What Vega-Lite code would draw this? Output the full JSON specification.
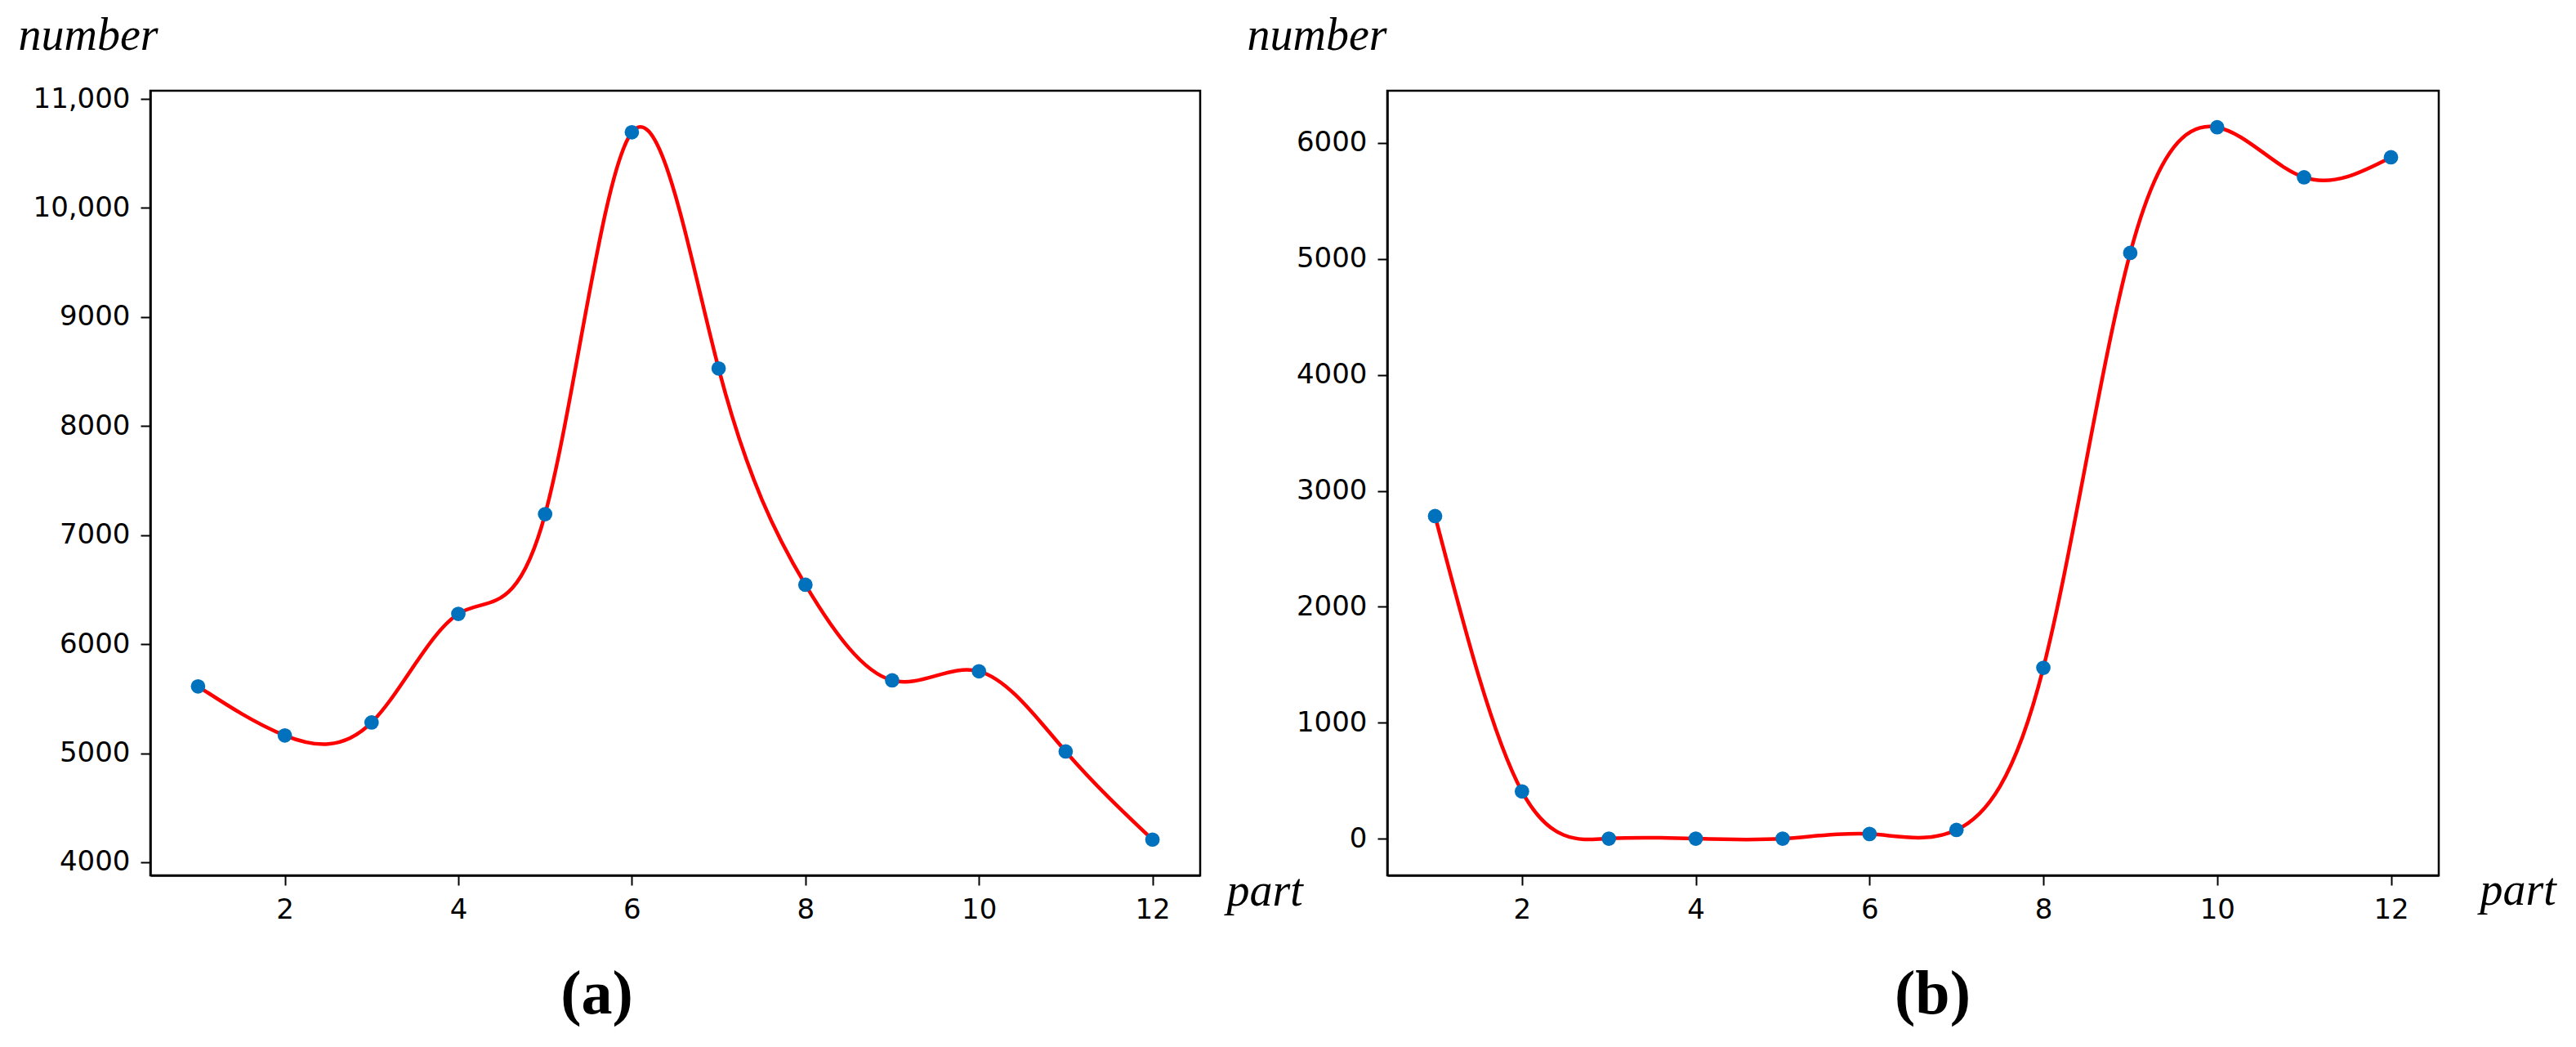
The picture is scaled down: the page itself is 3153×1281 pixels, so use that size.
{
  "$schema": "https://vega.github.io/schema/vega-lite/v6.json",
  "background": "white",
  "padding": {"left": 20, "top": 13, "right": 10, "bottom": 10},
  "bounds": "flush",
  "spacing": 229,
  "datasets": {
    "a": [
      {"part": 1, "number": 5613},
      {"part": 2, "number": 5163},
      {"part": 3, "number": 5282},
      {"part": 4, "number": 6278},
      {"part": 5, "number": 7192},
      {"part": 6, "number": 10694},
      {"part": 7, "number": 8528},
      {"part": 8, "number": 6545},
      {"part": 9, "number": 5668},
      {"part": 10, "number": 5751},
      {"part": 11, "number": 5016},
      {"part": 12, "number": 4208}
    ],
    "b": [
      {"part": 1, "number": 2782},
      {"part": 2, "number": 407},
      {"part": 3, "number": 0},
      {"part": 4, "number": 0},
      {"part": 5, "number": 0},
      {"part": 6, "number": 40},
      {"part": 7, "number": 75},
      {"part": 8, "number": 1473},
      {"part": 9, "number": 5052},
      {"part": 10, "number": 6136},
      {"part": 11, "number": 5704},
      {"part": 12, "number": 5877}
    ]
  },
  "config": {
    "view": {"stroke": "#000000", "strokeWidth": 2.5},
    "axis": {
      "domainColor": "#000000", "domainWidth": 2.5,
      "tickColor": "#000000", "tickWidth": 2, "tickSize": 12,
      "labelPadding": 13, "labelFont": "DejaVu Sans", "labelFontSize": 34, "labelColor": "#000000",
      "grid": false,
      "titleFont": "Liberation Serif", "titleFontStyle": "italic", "titleFontWeight": "normal",
      "titleFontSize": 56, "titleColor": "#000000"
    },
    "title": {"font": "Liberation Serif", "fontWeight": "bold", "fontSize": 76, "color": "#000000", "orient": "bottom", "anchor": "middle"}
  },
  "hconcat": [
    {
      "width": 1285, "height": 960,
      "title": {"text": "(a)", "dx": -96, "offset": 50},
      "data": {"name": "a"},
      "encoding": {
        "x": {"field": "part", "type": "quantitative",
          "scale": {"domain": [0.45, 12.55], "nice": false, "zero": false},
          "axis": {"values": [2, 4, 6, 8, 10, 12], "title": "part", "titleAngle": 0, "titleAlign": "left", "titleBaseline": "alphabetic", "titleX": 1317, "titleY": 36, "labelFlush": false}},
        "y": {"field": "number", "type": "quantitative",
          "scale": {"domain": [3880, 11075], "nice": false, "zero": false},
          "axis": {"values": [4000, 5000, 6000, 7000, 8000, 9000, 10000, 11000],
            "labelExpr": "datum.value >= 10000 ? format(datum.value, ',') : format(datum.value, 'd')",
            "title": "number", "titleAngle": 0, "titleAlign": "left", "titleBaseline": "alphabetic", "titleX": -162, "titleY": -51}}
      },
      "layer": [
        {"mark": {"type": "line", "interpolate": "natural", "color": "#ff0000", "strokeWidth": 4.5}},
        {"mark": {"type": "point", "filled": true, "size": 314, "color": "#0071bc", "opacity": 1}}
      ]
    },
    {
      "width": 1287, "height": 960,
      "title": {"text": "(b)", "dx": 24, "offset": 50},
      "data": {"name": "b"},
      "encoding": {
        "x": {"field": "part", "type": "quantitative",
          "scale": {"domain": [0.45, 12.55], "nice": false, "zero": false},
          "axis": {"values": [2, 4, 6, 8, 10, 12], "title": "part", "titleAngle": 0, "titleAlign": "left", "titleBaseline": "alphabetic", "titleX": 1337, "titleY": 35, "labelFlush": false}},
        "y": {"field": "number", "type": "quantitative",
          "scale": {"domain": [-317, 6451], "nice": false, "zero": false},
          "axis": {"values": [0, 1000, 2000, 3000, 4000, 5000, 6000],
            "labelExpr": "format(datum.value, 'd')",
            "title": "number", "titleAngle": 0, "titleAlign": "left", "titleBaseline": "alphabetic", "titleX": -172, "titleY": -51}}
      },
      "layer": [
        {"mark": {"type": "line", "interpolate": "natural", "color": "#ff0000", "strokeWidth": 4.5}},
        {"mark": {"type": "point", "filled": true, "size": 314, "color": "#0071bc", "opacity": 1}}
      ]
    }
  ]
}
